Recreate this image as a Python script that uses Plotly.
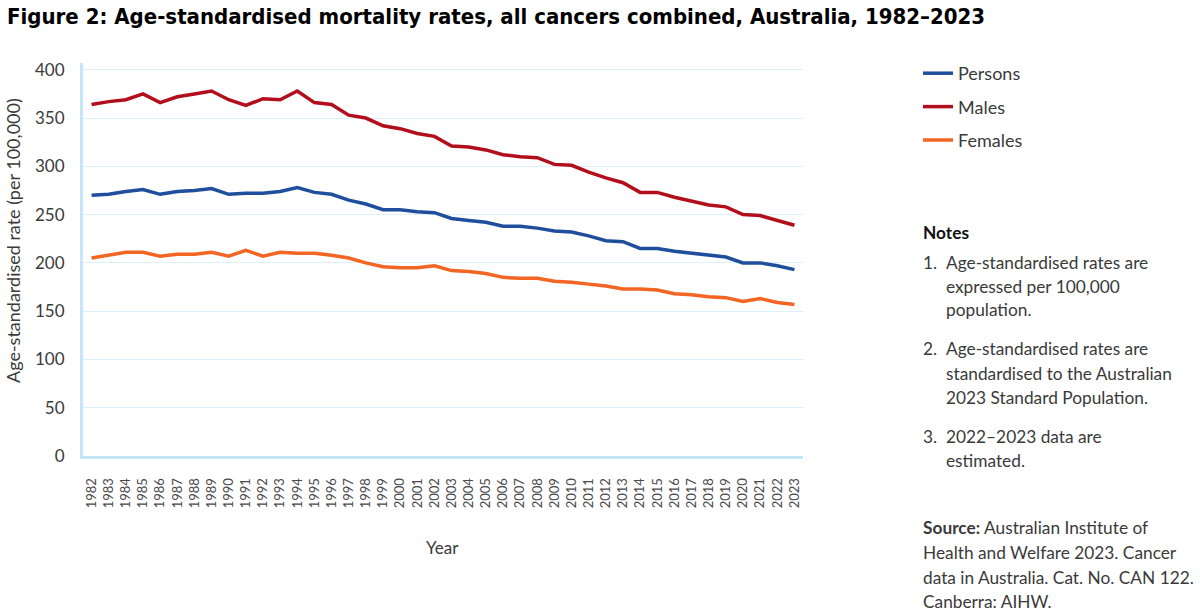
import plotly.graph_objects as go

years = list(range(1982, 2024))
persons = [270, 271, 274, 276, 271, 274, 275, 277, 271, 272, 272, 274, 278, 273, 271, 265, 261, 255, 255, 253,
           252, 246, 244, 242, 238, 238, 236, 233, 232, 228, 223, 222, 215, 215, 212, 210, 208, 206, 200, 200, 197, 193]
males = [364, 367, 369, 375, 366, 372, 375, 378, 369, 363, 370, 369, 378, 366, 364, 353, 350, 342, 339, 334,
         331, 321, 320, 317, 312, 310, 309, 302, 301, 294, 288, 283, 273, 273, 268, 264, 260, 258, 250, 249, 244, 239]
females = [205, 208, 211, 211, 207, 209, 209, 211, 207, 213, 207, 211, 210, 210, 208, 205, 200, 196, 195, 195,
           197, 192, 191, 189, 185, 184, 184, 181, 180, 178, 176, 173, 173, 172, 168, 167, 165, 164, 160, 163, 159, 157]

series_names = ["Persons", "Males", "Females"]
series_colors = ["#1f4e9d", "#b20e1c", "#f26522"]

title_text = "Figure 2: Age-standardised mortality rates, all cancers combined, Australia, 1982\u20132023"
y_title = "Age-standardised rate (per 100,000)"
x_title = "Year"

notes = [
    ("1.", ["Age-standardised rates are", "expressed per 100,000", "population."]),
    ("2.", ["Age-standardised rates are", "standardised to the Australian", "2023 Standard Population."]),
    ("3.", ["2022\u20132023 data are", "estimated."]),
]
source_lines = ["<b>Source:</b> Australian Institute of", "Health and Welfare 2023. Cancer",
                "data in Australia. Cat. No. CAN 122.", "Canberra: AIHW."]

FONT = "Lato, 'Open Sans', sans-serif"
TXT = "#3a3a3a"

# layout geometry (pixels)
L, R, T, B = 83, 803, 63, 456
W, H = R - L, B - T

def px(x):
    return (x - L) / W

def py(y):
    return (B - y) / H

fig = go.Figure()
for name, vals, col in zip(series_names, [persons, males, females], series_colors):
    fig.add_trace(go.Scatter(x=years, y=vals, mode="lines", name=name, legendgroup=name,
                             line=dict(color=col, width=3.5)))

ann = []
ann.append(dict(text=title_text, x=px(5), y=py(17), xref="paper", yref="paper", showarrow=False,
                xanchor="left", yanchor="middle",
                font=dict(family="'Liberation Sans Narrow', 'DejaVu Sans Condensed', 'Arial Narrow', sans-serif",
                          size=22, color="#000000", weight="bold")))

ann.append(dict(text=y_title, x=px(13), y=py(241), xref="paper", yref="paper", showarrow=False,
                textangle=-90, xanchor="center", yanchor="middle",
                font=dict(family=FONT, size=18, color=TXT)))
ann.append(dict(text=x_title, x=px(442), y=py(547), xref="paper", yref="paper", showarrow=False,
                xanchor="center", yanchor="middle", font=dict(family=FONT, size=17, color=TXT)))

NFS = 17.3
ann.append(dict(text="<b>Notes</b>", x=px(921), y=py(232), xref="paper", yref="paper", showarrow=False,
                xanchor="left", yanchor="middle", font=dict(family=FONT, size=NFS, color="#111111")))
note_y = [[262, 286, 309], [348, 373, 397], [436, 460]]
for (num, lines), ys in zip(notes, note_y):
    ann.append(dict(text=num, x=px(921), y=py(ys[0]), xref="paper", yref="paper", showarrow=False,
                    xanchor="left", yanchor="middle", font=dict(family=FONT, size=NFS, color=TXT)))
    for line, yy in zip(lines, ys):
        ann.append(dict(text=line, x=px(944), y=py(yy), xref="paper", yref="paper", showarrow=False,
                        xanchor="left", yanchor="middle", font=dict(family=FONT, size=NFS, color=TXT)))
for line, yy in zip(source_lines, [527, 552, 577, 601]):
    ann.append(dict(text=line, x=px(921), y=py(yy), xref="paper", yref="paper", showarrow=False,
                    xanchor="left", yanchor="middle", font=dict(family=FONT, size=NFS, color=TXT)))

fig.update_layout(
    width=1200, height=612,
    margin=dict(l=L, r=1200 - R, t=T, b=612 - B, pad=0),
    paper_bgcolor="white", plot_bgcolor="white",
    font=dict(family=FONT, color=TXT),
    showlegend=True,
    legend=dict(x=px(918), y=py(55), xanchor="left", yanchor="top",
                font=dict(family=FONT, size=18, color=TXT), tracegroupgap=7,
                bgcolor="rgba(0,0,0,0)", itemwidth=30),
    annotations=ann,
)
fig.update_xaxes(range=[1981.5, 2023.5], tickmode="array", tickvals=years, ticktext=[str(y) for y in years],
                 tickangle=-90, tickfont=dict(family=FONT, size=13, color="#4a4a4a"),
                 showgrid=False, showline=True, linecolor="#c4e6f9", linewidth=3, ticks="",
                 ticklabelstandoff=14, zeroline=False, fixedrange=True)
fig.update_yaxes(range=[0, 407], tickmode="array", tickvals=list(range(0, 401, 50)),
                 tickfont=dict(family=FONT, size=17, color="#3a3a3a"),
                 showgrid=True, gridcolor="#dbf0fb", gridwidth=1,
                 showline=True, linecolor="#c4e6f9", linewidth=3, ticks="",
                 ticklabelstandoff=12, zeroline=False, fixedrange=True)

fig.write_html("out.html")
